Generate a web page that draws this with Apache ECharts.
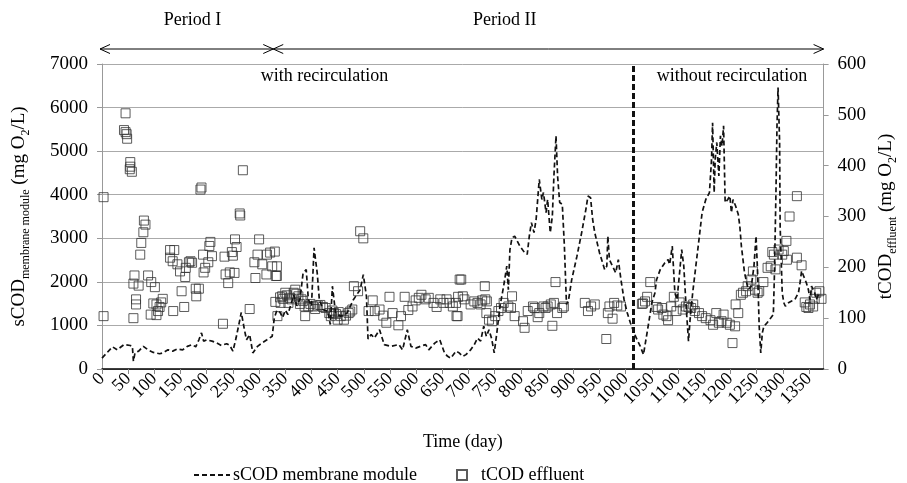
<!DOCTYPE html>
<html>
<head>
<meta charset="utf-8">
<script src="https://cdn.jsdelivr.net/npm/echarts@6/dist/echarts.min.js"></script>
<style>
html, body { margin: 0; padding: 0; background: #fff; }
#chart { width: 907px; height: 483px; }
</style>
</head>
<body>
<div id="chart"></div>
<script>
//sCOD membrane module (left axis, mg O2/L)
var scodDay = [0, 20, 29, 42, 54, 58, 60, 63, 70, 79, 88, 98, 110, 116, 126, 135, 144, 154, 163, 172, 179, 185, 190, 194, 200, 210, 219, 228, 238, 244, 250, 256, 262, 266, 272, 276, 282, 288, 297, 306, 315, 325, 329, 334,
    340, 345, 350, 355, 360, 366, 372, 378, 384, 390, 394, 400, 405, 411, 415, 422, 431, 436, 440, 446, 456, 468, 480, 493, 499, 505, 508, 514, 520, 530, 539, 551, 567, 574, 583, 590, 599, 608, 618, 624, 636, 645, 654, 660, 666,
    676, 682, 689, 695, 704, 711, 717, 723, 729, 734, 739, 744, 749, 754, 760, 767, 773, 776, 779, 783, 788, 798, 807, 812, 816, 820, 825, 829, 835, 840, 843, 848, 851, 856, 860, 863, 867, 870, 874, 879, 883, 887, 891, 897,
    907, 916, 924, 928, 933, 937, 941, 950, 960, 964, 966, 969, 975, 981, 986, 991, 997, 1003, 1009, 1016, 1022, 1028, 1034, 1037, 1044, 1050, 1056, 1059, 1066, 1075, 1081, 1084, 1089, 1094, 1098, 1103, 1107, 1111, 1115,
    1120, 1123, 1128, 1134, 1140, 1146, 1153, 1160, 1164, 1166, 1169, 1171, 1174, 1178, 1181, 1184, 1187, 1190, 1195, 1199, 1202, 1205, 1210, 1215, 1218, 1221, 1227, 1234, 1240, 1245, 1249, 1252, 1255, 1258, 1261, 1264,
    1270, 1277, 1282, 1284, 1287, 1289, 1291, 1294, 1295, 1299, 1302, 1305, 1311, 1317, 1323, 1330, 1333, 1336, 1340, 1345, 1349, 1352, 1355, 1358, 1361, 1364, 1368];
var scodVal = [250, 510, 440, 560, 540, 520, 180, 370, 410, 520, 440, 380, 350, 370, 440, 410, 460, 440, 520, 560, 510, 670, 830, 640, 670, 640, 600, 540, 580, 540, 410, 710, 1060, 1300, 900, 670, 790, 370, 520, 600, 670, 750, 1170, 1350,
    1300, 1180, 1350, 1250, 1450, 1700, 1450, 1600, 2200, 2280, 1600, 1440, 2780, 2200, 1600, 1360, 1330, 1020, 1900, 1290, 1210, 1285, 1590, 1820, 2165, 1670, 690, 790, 710, 900, 560, 520, 560, 440, 900, 520, 480, 520, 560, 440, 600, 670, 370, 290, 250,
    410, 370, 290, 330, 440, 560, 710, 640, 980, 750, 900, 700, 370, 830, 1440, 1900, 2360, 1820, 2740, 3010, 3050, 2820, 2670, 2630, 3050, 3360, 3130, 3430, 4350, 3890, 4050, 3590, 3890, 3130, 3510, 4430, 5350, 4430, 3820, 3780, 2820, 1480, 1590, 2050,
    2590, 3130, 3660, 3970, 3930, 3430, 3130, 2670, 2280, 2360, 3050, 2510, 2360, 2210, 2510, 2050, 1590, 1290, 1060, 830, 670, 520, 330, 370, 1060, 1520, 1750, 2050, 2280, 2440, 2510, 2400, 2820, 1750, 1590, 2210, 2740, 2360, 1520,
    640, 1130, 1750, 2360, 2970, 3590, 3890, 4050, 4810, 5650, 4050, 4810, 5200, 4430, 5350, 5120, 5580, 3820, 3890, 3970, 3590, 3890, 3740, 3550, 3280, 2820, 2210, 1820, 1900, 2360, 3050, 2210, 980, 370, 830, 980,
    1060, 1170, 1250, 2130, 4050, 5580, 6460, 5200, 3280, 1750, 1520, 1440, 1520, 1560, 1590, 1750, 1980, 2250, 2130, 1980, 1820, 1590, 1900, 1820, 1750, 1590, 1700];

//tCOD effluent (right axis, mg O2/L)
var tcodDay = [3, 3, 45, 42, 45, 47, 48, 54, 54, 53, 57, 80, 83, 79, 75, 73, 62, 60, 70, 65, 65, 60, 88, 94, 101, 98, 104, 110, 116, 113, 107, 93, 104, 136, 130, 138, 130, 135, 144, 149, 160, 159, 166, 172, 169, 152, 157,
    179, 185, 180, 188, 190, 193, 207, 205, 210, 197, 203, 194, 234, 248, 250, 254, 257, 231, 236, 244, 253, 241, 264, 263, 269, 300, 297, 291, 293, 306, 315, 321, 330, 325, 314, 332, 282, 331, 335, 340,
    334, 334, 344, 341, 350, 359, 366, 369, 375, 381, 362, 356, 387, 388, 394, 403, 412, 422, 434, 437, 443, 450, 456, 462, 471, 478, 481, 489, 493, 499, 509, 517, 521, 530, 537, 543, 549, 555, 566, 571, 578, 585,
    593, 599, 605, 610, 618, 624, 633, 639, 646, 652, 658, 664, 670, 677, 683, 680, 346, 353, 371, 378, 384, 398, 407, 417, 427, 440, 447, 452, 466, 474,
    686, 676, 679, 689, 692, 704, 711, 717, 723, 726, 732, 735, 731, 734, 739, 745, 751, 757, 762, 767, 776, 781, 783, 788, 804, 807, 813, 823, 826, 832, 835, 843, 847, 851, 857, 860, 866, 863, 869, 879, 882,
    922, 928, 941, 934, 963, 966, 969, 975, 978, 984, 991, 1031,
    1047, 1041, 1033, 1037, 1059, 1062, 1069, 1072, 1078, 1081, 1087, 1092, 1097, 1103, 1109, 1115, 1120, 1125, 1129, 1132, 1140, 1146, 1153, 1162, 1167, 1173, 1178, 1183, 1187, 1193, 1199, 1204, 1209, 1210,
    1215, 1220, 1224, 1230, 1233, 1240, 1243, 1247, 1252, 1255, 1263, 1271, 1277, 1280, 1283, 1286, 1292, 1299, 1302, 1307, 1308, 1313, 1327, 1327, 1336, 1342, 1345, 1349, 1352, 1358, 1361, 1364, 1370, 1374];
var tcodVal = [104, 338, 503, 470, 466, 462, 453, 407, 398, 393, 388, 292, 284, 269, 248, 225, 184, 168, 164, 137, 127, 100, 184, 171, 161, 129, 127, 122, 138, 131, 114, 107, 106, 114, 234, 234, 219, 212, 206, 192, 199, 181, 210, 209, 212, 153, 122,
    158, 158, 143, 353, 357, 225, 250, 242, 222, 199, 210, 190, 221, 230, 223, 255, 240, 89, 186, 190, 189, 169, 302, 306, 391, 255, 225, 210, 179, 206, 225, 229, 231, 202, 186, 183, 118, 132, 104, 141,
    202, 183, 143, 130, 150, 140, 150, 156, 143, 137, 137, 130, 123, 104, 123, 123, 125, 122, 110, 104, 110, 97, 104, 97, 110, 117, 163, 153, 271, 257, 114, 135, 114, 117, 105, 91, 142, 110, 86, 104, 142, 116,
    123, 135, 140, 146, 137, 140, 130, 122, 137, 130, 137, 130, 123, 104, 176, 142, 138, 145, 148, 128, 134, 128, 118, 126, 120, 115, 108, 112, 105, 113,
    176, 130, 104, 143, 137, 127, 133, 130, 127, 135, 137, 133, 163, 110, 97, 94, 104, 114, 120, 130, 123, 120, 143, 104, 94, 81, 114, 123, 120, 102, 110, 123, 120, 123, 127, 85, 171, 130, 110, 120, 123,
    130, 114, 127, 123, 59, 110, 123, 99, 130, 125, 123, 128,
    171, 142, 129, 133, 122, 117, 120, 107, 104, 96, 123, 142, 114, 131, 117, 123, 122, 120, 127, 114, 110, 104, 100, 96, 87, 110, 91, 94, 107, 91, 87, 51, 84, 127,
    110, 146, 150, 153, 163, 176, 192, 156, 150, 153, 171, 199, 202, 230, 225, 196, 235, 225, 232, 252, 215, 300, 340, 219, 204, 131, 122, 120, 127, 123, 138, 150, 153, 138];

//时期划分与回流切换
var periodNames = ["Period I", "Period II"];
var periodBounds = [0, 327, 1378];
var periodTextDay = [173, 769];
var regimeNames = ["with recirculation", "without recirculation"];
var regimeTextDay = [425, 1203];
var switchDay = 1015;

var xMax = 1378;
var fontFam = "'Liberation Serif', 'Times New Roman', serif";

function zip(a, b) {
    var out = [];
    for (var i = 0; i < a.length; i++) out.push([a[i], b[i]]);
    return out;
}

var chart = echarts.init(document.getElementById("chart"), null, { renderer: "canvas" });

var option = {
    animation: false,
    backgroundColor: "#fff",
    textStyle: { fontFamily: fontFam, color: "#000" },
    grid: { left: 102, right: 65, top: 64, bottom: 114, containLabel: false },
    legend: [
        {
            data: ["sCOD membrane module"],
            left: 188, top: 461,
            itemWidth: 36, itemHeight: 10, itemGap: 4,
            //只画虚线，不画圆点
            itemStyle: { opacity: 0 },
            textStyle: { fontFamily: fontFam, fontSize: 18, color: "#000", padding: [0, 0, 0, -2] }
        },
        {
            data: ["tCOD effluent"],
            left: 451, top: 461,
            itemWidth: 10, itemHeight: 10,
            textStyle: { fontFamily: fontFam, fontSize: 18, color: "#000", padding: [0, 0, 0, 9] }
        }
    ],
    xAxis: {
        type: "value",
        min: 0, max: xMax, interval: 50,
        name: "Time (day)",
        nameLocation: "middle",
        nameGap: 64,
        nameTextStyle: { fontFamily: fontFam, fontSize: 18, color: "#000" },
        axisLine: { lineStyle: { color: "#000", width: 1.5 } },
        axisTick: { lineStyle: { color: "#888" }, length: 5 },
        splitLine: { show: false },
        axisLabel: {
            rotate: 45, fontSize: 18, fontFamily: fontFam, color: "#000", margin: 7,
            showMaxLabel: false,
            formatter: function(v) { return v % 50 === 0 ? String(v) : ""; }
        }
    },
    yAxis: [
        {
            type: "value",
            min: 0, max: 7000, interval: 1000,
            name: "{a|sCOD}{s|membrane module}{a| (mg O}{s|2}{a|/L)}",
            nameLocation: "middle",
            nameGap: 72,
            nameTextStyle: {
                rich: {
                    a: { fontFamily: fontFam, fontSize: 19, color: "#000", lineHeight: 20, verticalAlign: "top" },
                    s: { fontFamily: fontFam, fontSize: 12, color: "#000", lineHeight: 12, verticalAlign: "top", padding: [10, 0, 0, 0] }
                }
            },
            axisLine: { show: true, lineStyle: { color: "#999" } },
            axisTick: { show: true, length: 5, lineStyle: { color: "#999" } },
            splitLine: { show: true, lineStyle: { color: "#aaa", width: 1 } },
            axisLabel: {
                fontSize: 19, fontFamily: fontFam, color: "#000", margin: 14,
                formatter: function(v) { return String(v); }
            }
        },
        {
            type: "value",
            min: 0, max: 600, interval: 100,
            name: "{a|tCOD}{s|effluent}{a| (mg O}{s|2}{a|/L)}",
            nameLocation: "middle",
            nameGap: 44,
            nameTextStyle: {
                rich: {
                    a: { fontFamily: fontFam, fontSize: 19, color: "#000", lineHeight: 20, verticalAlign: "top" },
                    s: { fontFamily: fontFam, fontSize: 12, color: "#000", lineHeight: 12, verticalAlign: "top", padding: [10, 0, 0, 0] }
                }
            },
            axisLine: { show: true, lineStyle: { color: "#999" } },
            axisTick: { show: true, length: 5, lineStyle: { color: "#999" } },
            splitLine: { show: false },
            axisLabel: {
                fontSize: 19, fontFamily: fontFam, color: "#000", margin: 14,
                formatter: function(v) { return String(v); }
            }
        }
    ],
    series: [
        {
            name: "tCOD effluent",
            type: "scatter",
            yAxisIndex: 1,
            symbol: "rect",
            symbolSize: 9,
            itemStyle: { color: "rgba(255,255,255,0)", borderColor: "#333", borderWidth: 1 },
            data: zip(tcodDay, tcodVal)
        },
        {
            name: "sCOD membrane module",
            type: "line",
            yAxisIndex: 0,
            showSymbol: false,
            symbol: "none",
            lineStyle: { color: "#111", width: 1.7, type: [5, 3] },
            itemStyle: { color: "#111" },
            data: zip(scodDay, scodVal),
            markLine: {
                silent: true,
                symbol: ["none", "none"],
                label: { show: false },
                lineStyle: { color: "#111", width: 3, type: [6, 3] },
                data: [{ xAxis: switchDay }]
            }
        }
    ]
};
chart.setOption(option);

//顶部时期箭头和文字
function px(day) {
    return chart.convertToPixel({ xAxisIndex: 0 }, day);
}
var topY = chart.convertToPixel({ yAxisIndex: 0 }, 7000);
var arrowY = topY - 15;
var gfx = [];
function addArrow(x1, x2) {
    var st = { stroke: "#000", lineWidth: 1, fill: null };
    gfx.push({ type: "line", shape: { x1: x1, y1: arrowY, x2: x2, y2: arrowY }, style: st });
    gfx.push({ type: "polyline", shape: { points: [[x1 + 10, arrowY - 4.5], [x1, arrowY], [x1 + 10, arrowY + 4.5]] }, style: st });
    gfx.push({ type: "polyline", shape: { points: [[x2 - 10, arrowY - 4.5], [x2, arrowY], [x2 - 10, arrowY + 4.5]] }, style: st });
}
function addText(txt, x, y) {
    gfx.push({
        type: "text", x: x, y: y,
        style: { text: txt, fontFamily: fontFam, fontSize: 18, fill: "#000", align: "center", verticalAlign: "middle" }
    });
}
for (var i = 0; i < periodNames.length; i++) {
    addArrow(px(periodBounds[i]) - (i === 0 ? 2 : 0), px(periodBounds[i + 1]));
    addText(periodNames[i], px(periodTextDay[i]), 20);
}
for (var j = 0; j < regimeNames.length; j++) {
    addText(regimeNames[j], px(regimeTextDay[j]), topY + 12);
}
chart.setOption({ graphic: gfx });
</script>
</body>
</html>
